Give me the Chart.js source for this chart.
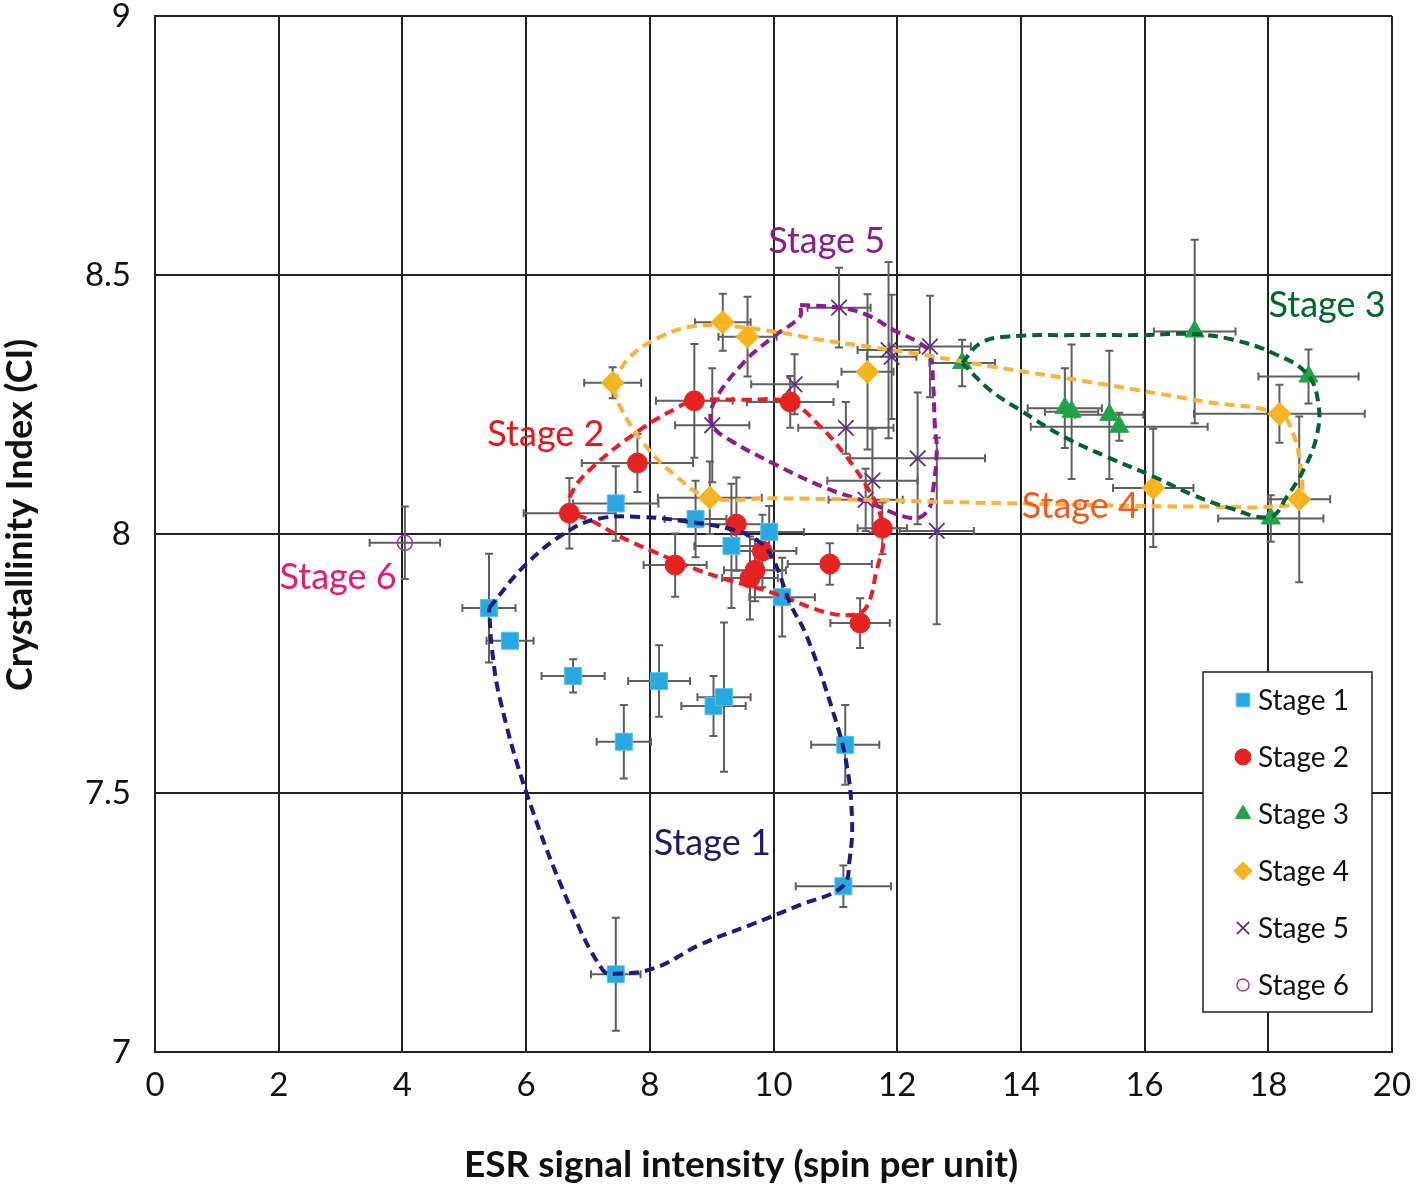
<!DOCTYPE html>
<html>
<head>
<meta charset="utf-8">
<script src="https://cdn.jsdelivr.net/npm/chart.js@4.4.1/dist/chart.umd.min.js"></script>
<style>
  body { margin: 0; background: #fff; }
  #wrap { width: 1418px; height: 1188px; }
</style>
</head>
<body>
<div id="wrap"><canvas id="chart"></canvas></div>
<script>
// each point: [x, y, x error, y error]
var stage1 = [
  [5.40, 7.857, 0.43, 0.105], [5.74, 7.794, 0.38, 0.01], [6.76, 7.726, 0.51, 0.032],
  [8.15, 7.716, 0.50, 0.069], [7.58, 7.599, 0.44, 0.071], [9.03, 7.668, 0.52, 0.058],
  [9.20, 7.685, 0.43, 0.144], [11.16, 7.593, 0.55, 0.077], [7.45, 8.059, 0.69, 0.072],
  [8.74, 8.029, 0.50, 0.074], [9.93, 8.004, 0.56, 0.05], [9.32, 7.977, 0.60, 0.12],
  [10.14, 7.878, 0.53, 0.076], [7.45, 7.150, 0.40, 0.109], [11.13, 7.320, 0.77, 0.04]
];
var stage2 = [
  [6.70, 8.040, 0.74, 0.068], [7.80, 8.137, 0.90, 0.056], [8.72, 8.257, 0.62, 0.11],
  [10.27, 8.255, 0.70, 0.05], [9.40, 8.019, 0.60, 0.09], [9.82, 7.967, 0.55, 0.07],
  [8.41, 7.940, 0.51, 0.061], [9.62, 7.915, 0.45, 0.08], [9.70, 7.930, 0.50, 0.06],
  [10.91, 7.942, 0.68, 0.04], [11.40, 7.828, 0.48, 0.048], [11.76, 8.011, 0.40, 0.05]
];
var stage3 = [
  [13.05, 8.330, 0.53, 0.045], [16.81, 8.391, 0.66, 0.177], [18.65, 8.304, 0.81, 0.052],
  [14.71, 8.243, 0.60, 0.077], [14.82, 8.236, 0.43, 0.13], [15.43, 8.230, 0.55, 0.124],
  [15.59, 8.207, 1.43, 0.027], [18.04, 8.030, 0.85, 0.045]
];
var stage4 = [
  [7.40, 8.292, 0.46, 0.03], [9.18, 8.409, 0.45, 0.055], [9.58, 8.381, 0.47, 0.077],
  [11.52, 8.313, 0.42, 0.15], [8.97, 8.070, 0.84, 0.07], [16.14, 8.089, 0.65, 0.114],
  [18.18, 8.232, 1.38, 0.056], [18.50, 8.067, 0.50, 0.16]
];
var stage5 = [
  [11.06, 8.437, 0.51, 0.077], [12.53, 8.362, 0.66, 0.098], [11.86, 8.355, 0.50, 0.17],
  [11.91, 8.342, 0.40, 0.12], [10.34, 8.289, 0.70, 0.058], [9.01, 8.210, 0.60, 0.11],
  [11.17, 8.205, 0.77, 0.05], [12.33, 8.146, 1.09, 0.127], [11.60, 8.103, 0.73, 0.10],
  [11.49, 8.066, 0.60, 0.06], [12.64, 8.006, 0.60, 0.18]
];
var stage6 = [
  [4.04, 7.983, 0.57, 0.07]
];

// hand drawn dashed outlines round each stage: [x, y]
var outline1 = [
  [5.40, 7.857], [6.01, 7.943], [6.71, 8.008], [7.19, 8.030], [7.84, 8.033], [8.60, 8.024],
  [9.35, 8.008], [9.77, 7.985], [10.00, 7.950], [10.27, 7.866], [10.54, 7.802], [10.97, 7.654],
  [11.18, 7.557], [11.27, 7.448], [11.23, 7.371], [11.12, 7.320], [10.43, 7.284], [9.62, 7.245],
  [8.81, 7.207], [8.08, 7.162], [7.45, 7.151], [7.24, 7.158], [6.71, 7.281], [6.01, 7.499],
  [5.58, 7.680], [5.45, 7.776], [5.40, 7.857]
];
var outline2 = [
  [6.70, 8.040], [6.72, 8.075], [7.03, 8.124], [7.84, 8.201], [8.43, 8.243], [8.71, 8.257],
  [9.51, 8.259], [10.27, 8.254], [10.76, 8.207], [11.18, 8.149], [11.51, 8.091], [11.72, 8.040],
  [11.78, 7.988], [11.67, 7.931], [11.51, 7.860], [11.29, 7.844], [10.81, 7.850], [10.00, 7.886],
  [9.19, 7.914], [8.70, 7.934], [8.06, 7.966], [7.52, 7.995], [7.03, 8.027], [6.70, 8.040]
];
var outline3 = [
  [13.05, 8.330], [13.34, 8.368], [13.77, 8.381], [14.85, 8.384], [15.93, 8.384], [16.79, 8.386],
  [17.43, 8.375], [18.08, 8.349], [18.62, 8.310], [18.81, 8.252], [18.78, 8.188], [18.57, 8.124],
  [18.30, 8.072], [18.03, 8.033], [17.38, 8.050], [16.79, 8.075], [16.14, 8.111], [15.39, 8.149],
  [14.69, 8.188], [13.99, 8.239], [13.50, 8.278], [13.05, 8.330]
];
var outline4 = [
  [7.40, 8.292], [7.68, 8.342], [8.16, 8.380], [8.65, 8.400], [9.18, 8.402], [10.00, 8.391],
  [10.75, 8.375], [11.51, 8.362], [12.26, 8.349], [12.91, 8.336], [13.55, 8.323], [15.39, 8.288],
  [17.00, 8.255], [18.18, 8.232], [18.40, 8.194], [18.51, 8.136], [18.50, 8.067], [18.08, 8.053],
  [17.00, 8.053], [15.93, 8.054], [14.31, 8.058], [12.69, 8.062], [11.51, 8.066], [10.00, 8.069],
  [8.97, 8.070], [8.43, 8.111], [7.90, 8.175], [7.52, 8.246], [7.40, 8.292]
];
var outline5 = [
  [10.43, 8.442], [11.06, 8.437], [11.51, 8.423], [11.94, 8.394], [12.37, 8.368], [12.53, 8.349],
  [12.58, 8.291], [12.61, 8.207], [12.64, 8.162], [12.58, 8.085], [12.50, 8.046], [12.26, 8.030],
  [11.51, 8.062], [10.86, 8.088], [10.00, 8.136], [9.30, 8.181], [9.01, 8.210], [9.03, 8.252],
  [9.51, 8.330], [10.00, 8.381], [10.43, 8.420], [10.43, 8.442]
];

var stageNames = ['Stage 1', 'Stage 2', 'Stage 3', 'Stage 4', 'Stage 5', 'Stage 6'];
// where the stage names are written on the plot [x, y]
var labelPos = [[9.01, 7.403], [6.32, 8.193], [18.95, 8.442], [14.96, 8.054], [10.86, 8.564], [2.96, 7.917]];
var xTitle = 'ESR signal intensity (spin per unit)';
var yTitle = 'Crystallinity Index (CI)';
var xTickStep = 2;
var yTickStep = 0.5;

var markerStyles = [
  { pointStyle: 'rect', radius: 12, fill: '#29a9e1', line: '#55c0ee', width: 1 },
  { pointStyle: 'circle', radius: 10, fill: '#e52421', line: '#e52421', width: 1 },
  { pointStyle: 'triangle', radius: 11, fill: '#1fa34a', line: '#1fa34a', width: 1 },
  { pointStyle: 'rectRot', radius: 11.5, fill: '#f6b61b', line: '#f6b61b', width: 1 },
  { pointStyle: 'crossRot', radius: 11, fill: '#5c2e91', line: '#5c2e91', width: 1.8 },
  { pointStyle: 'circle', radius: 7.5, fill: 'rgba(0,0,0,0)', line: '#a33a9d', width: 1.5 }
];
var outlineColors = ['#1b1b82', '#ee1d23', '#00632f', '#fbb33a', '#8c1d8c'];
var labelColors = ['#1f1a6e', '#e8151b', '#00662e', '#f05a1a', '#8b1c8b', '#e5197a'];

var stages = [stage1, stage2, stage3, stage4, stage5, stage6];
var outlines = [outline1, outline2, outline3, outline4, outline5];

var datasets = [];
stages.forEach(function (pts, i) {
  var st = markerStyles[i];
  datasets.push({
    label: stageNames[i],
    data: pts.map(function (p) { return { x: p[0], y: p[1], xe: p[2], ye: p[3] }; }),
    pointStyle: st.pointStyle,
    pointRadius: st.radius,
    pointBackgroundColor: st.fill,
    pointBorderColor: st.line,
    pointBorderWidth: st.width,
    showLine: false,
    order: 2,
    isStage: true
  });
});
outlines.forEach(function (pts, i) {
  datasets.push({
    label: 'outline ' + (i + 1),
    data: pts.map(function (p) { return { x: p[0], y: p[1] }; }),
    showLine: true,
    pointRadius: 0,
    borderColor: outlineColors[i],
    borderWidth: 4,
    borderDash: [10, 6],
    tension: 0.4,
    fill: false,
    order: 1
  });
});

var errorBars = {
  id: 'errorBars',
  beforeDatasetsDraw: function (chart) {
    var ctx = chart.ctx, xs = chart.scales.x, ys = chart.scales.y;
    ctx.save();
    ctx.strokeStyle = '#5f5f5f';
    ctx.lineWidth = 2;
    chart.data.datasets.forEach(function (ds) {
      if (!ds.isStage) return;
      ds.data.forEach(function (p) {
        var cx = xs.getPixelForValue(p.x), cy = ys.getPixelForValue(p.y);
        var x0 = xs.getPixelForValue(p.x - p.xe), x1 = xs.getPixelForValue(p.x + p.xe);
        var y0 = ys.getPixelForValue(p.y - p.ye), y1 = ys.getPixelForValue(p.y + p.ye);
        var c = 4;
        ctx.beginPath();
        ctx.moveTo(x0, cy); ctx.lineTo(x1, cy);
        ctx.moveTo(x0, cy - c); ctx.lineTo(x0, cy + c);
        ctx.moveTo(x1, cy - c); ctx.lineTo(x1, cy + c);
        ctx.moveTo(cx, y0); ctx.lineTo(cx, y1);
        ctx.moveTo(cx - c, y0); ctx.lineTo(cx + c, y0);
        ctx.moveTo(cx - c, y1); ctx.lineTo(cx + c, y1);
        ctx.stroke();
      });
    });
    ctx.restore();
  }
};

var stageLabels = {
  id: 'stageLabels',
  afterDatasetsDraw: function (chart) {
    var ctx = chart.ctx, xs = chart.scales.x, ys = chart.scales.y;
    ctx.save();
    ctx.font = '36px Lato';
    ctx.textAlign = 'center';
    ctx.textBaseline = 'middle';
    labelPos.forEach(function (p, i) {
      ctx.fillStyle = labelColors[i];
      ctx.fillText(stageNames[i], xs.getPixelForValue(p[0]), ys.getPixelForValue(p[1]));
    });
    ctx.restore();
  }
};

// axis titles sit a little off centre in the original, so they are drawn here
var axisTitles = {
  id: 'axisTitles',
  afterDraw: function (chart) {
    var ctx = chart.ctx, area = chart.chartArea;
    ctx.save();
    ctx.fillStyle = '#111';
    ctx.font = 'bold 37px Lato';
    ctx.textAlign = 'center';
    ctx.textBaseline = 'middle';
    ctx.fillText(xTitle, area.left + 586, area.bottom + 113);
    ctx.font = 'bold 36px Lato';
    ctx.translate(20, area.top + 499);
    ctx.rotate(-Math.PI / 2);
    ctx.fillText(yTitle, 0, 0);
    ctx.restore();
  }
};

var boxLegend = {
  id: 'boxLegend',
  afterDraw: function (chart) {
    var ctx = chart.ctx, area = chart.chartArea;
    var w = 169, h = 340;
    var left = area.right - 20 - w, top = area.bottom - 40 - h;
    ctx.save();
    ctx.fillStyle = '#fff';
    ctx.fillRect(left, top, w, h);
    ctx.strokeStyle = '#222';
    ctx.lineWidth = 1.5;
    ctx.strokeRect(left, top, w, h);
    ctx.font = '28px Lato';
    ctx.textBaseline = 'middle';
    ctx.textAlign = 'left';
    stageNames.forEach(function (name, i) {
      var st = markerStyles[i];
      var y = top + 28 + i * 57;
      var mx = left + 40;
      ctx.fillStyle = st.fill;
      ctx.strokeStyle = st.line;
      ctx.lineWidth = st.width;
      var r = st.radius * 0.8;
      if (Chart.helpers && Chart.helpers.drawPoint) {
        Chart.helpers.drawPoint(ctx, { pointStyle: st.pointStyle, radius: r, rotation: 0, borderWidth: st.width }, mx, y);
      }
      ctx.fillStyle = '#111';
      ctx.fillText(name, left + 55, y + 1);
    });
    ctx.restore();
  }
};

new Chart(document.getElementById('chart'), {
  type: 'scatter',
  data: { datasets: datasets },
  options: {
    responsive: true,
    maintainAspectRatio: false,
    animation: false,
    layout: { padding: { top: 16, right: 26, left: 0, bottom: 0 } },
    plugins: { legend: { display: false }, tooltip: { enabled: false } },
    scales: {
      x: {
        type: 'linear', min: 0, max: 20,
        ticks: { stepSize: xTickStep, color: '#111', font: { family: 'Lato', size: 33 }, padding: 14 },
        grid: { color: '#222', lineWidth: 2, drawTicks: false },
        border: { color: '#222', width: 2 },
        afterFit: function (s) { s.height = 136; s.paddingLeft = 0; s.paddingRight = 0; }
      },
      y: {
        type: 'linear', min: 7, max: 9,
        ticks: { stepSize: yTickStep, color: '#111', font: { family: 'Lato', size: 33 }, padding: 24,
          callback: function (v) { return String(v); } },
        grid: { color: '#222', lineWidth: 2, drawTicks: false },
        border: { color: '#222', width: 2 },
        afterFit: function (s) { s.width = 155; s.paddingTop = 0; s.paddingBottom = 0; }
      }
    }
  },
  plugins: [errorBars, stageLabels, axisTitles, boxLegend]
});
</script>
</body>
</html>
